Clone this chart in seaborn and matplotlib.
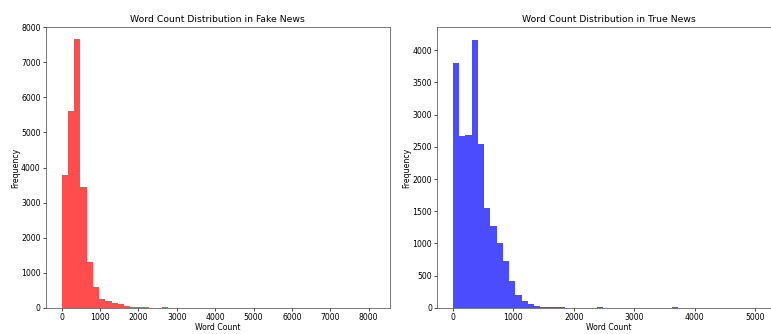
import numpy as np
import matplotlib.pyplot as plt
import seaborn as sns
import pandas as pd

# reference looks like a default matplotlib figure shrunk to ~55%
plt.rc('font', size=5.6)
plt.rc('axes', titlesize=6.7, labelsize=5.6, linewidth=0.5, labelpad=0.8,
       titlepad=3.3)
plt.rc('xtick', labelsize=5.6)
plt.rc('ytick', labelsize=5.6)
plt.rc('xtick.major', size=2., width=0.5, pad=1.5)
plt.rc('ytick.major', size=2., width=0.5, pad=1.9)

# word count histogram, 50 bins each
fake_max = 8136
fake_counts = [3800, 5600, 7650, 3450, 1310, 600, 262, 195, 135, 100,
               60, 40, 30, 15, 10, 8, 20, 10, 8, 6,
               5, 4, 3, 6, 6, 5, 4, 1, 0, 1,
               0, 1, 0, 1, 4, 6, 1, 0, 0, 0,
               0, 0, 0, 0, 0, 0, 0, 0, 0, 1]

true_max = 5170
true_counts = [3800, 2670, 2680, 4150, 2540, 1545, 1265, 1015, 725, 415,
               205, 112, 65, 30, 15, 10, 8, 8, 6, 5,
               2, 2, 1, 8, 1, 0, 0, 0, 0, 0,
               0, 0, 0, 0, 0, 8, 0, 0, 0, 0,
               0, 0, 0, 0, 0, 0, 0, 0, 0, 1]

fig = plt.figure(figsize=[7.71, 3.34], dpi=100)
ax1 = fig.add_axes([0.0597, 0.078, 0.4455, 0.841])
ax2 = fig.add_axes([0.5672, 0.078, 0.4455, 0.841])

for ax, vmax, counts, col, name in [(ax1, fake_max, fake_counts, 'red', 'Fake'),
                                    (ax2, true_max, true_counts, 'blue', 'True')]:
    nb = len(counts)
    edges = np.linspace(0, vmax, nb + 1)
    df = pd.DataFrame({'word_count': (edges[:-1] + edges[1:]) / 2,
                       'n': counts})
    sns.histplot(data=df, x='word_count', weights='n', bins=nb,
                 binrange=(0, vmax), color=col, alpha=0.7,
                 edgecolor='none', linewidth=0, ax=ax)
    ax.set_title('Word Count Distribution in %s News' % name)
    ax.set_xlabel('Word Count')
    ax.set_ylabel('Frequency')
    for s in ax.spines.values():
        s.set_color('#444444')

ax1.set_ylim(0, 8000)

fig.savefig('out.png', dpi=100)
